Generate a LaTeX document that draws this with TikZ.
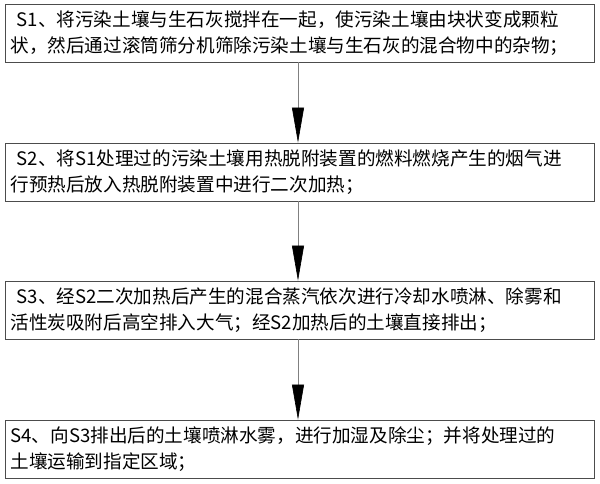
\documentclass[tikz,border=0pt]{standalone}
\usepackage{fontspec}
\newfontfamily\cjk{Noto Sans CJK SC}
\usetikzlibrary{positioning, arrows.meta}
\tikzset{
    stepbox/.style={draw=black!70, line width=0.8pt, minimum width=589pt, minimum height=58pt,
        text width=578pt, align=left, inner sep=0pt, font=\cjk\fontsize{18.6}{26}\selectfont},
    flow/.style={draw=black!50, line width=0.6pt, -{Triangle[width=12pt,length=35pt,black]}}
}
\begin{document}
\begin{tikzpicture}[x=1pt, y=-1pt]
    \useasboundingbox (0,0) rectangle (600,483);

    % steps
    \node[stepbox] (s1) at (299.5,33) {\ S1、将污染土壤与生石灰搅拌在一起，使污染土壤由块状变成颗粒\\状，然后通过滚筒筛分机筛除污染土壤与生石灰的混合物中的杂物；};
    \node[stepbox] (s2) at (299.5,172) {\ S2、将S1处理过的污染土壤用热脱附装置的燃料燃烧产生的烟气进\\行预热后放入热脱附装置中进行二次加热；};
    \node[stepbox] (s3) at (299.5,310) {\ S3、经S2二次加热后产生的混合蒸汽依次进行冷却水喷淋、除雾和\\活性炭吸附后高空排入大气；经S2加热后的土壤直接排出；};
    \node[stepbox] (s4) at (299.5,449) {S4、向S3排出后的土壤喷淋水雾，进行加湿及除尘；并将处理过的\\土壤运输到指定区域；};

    % arrows
    \draw[flow] (s1.south -| 298,0) -- (s2.north -| 298,0);
    \draw[flow] (s2.south -| 298,0) -- (s3.north -| 298,0);
    \draw[flow] (s3.south -| 298,0) -- (s4.north -| 298,0);
\end{tikzpicture}
\end{document}
